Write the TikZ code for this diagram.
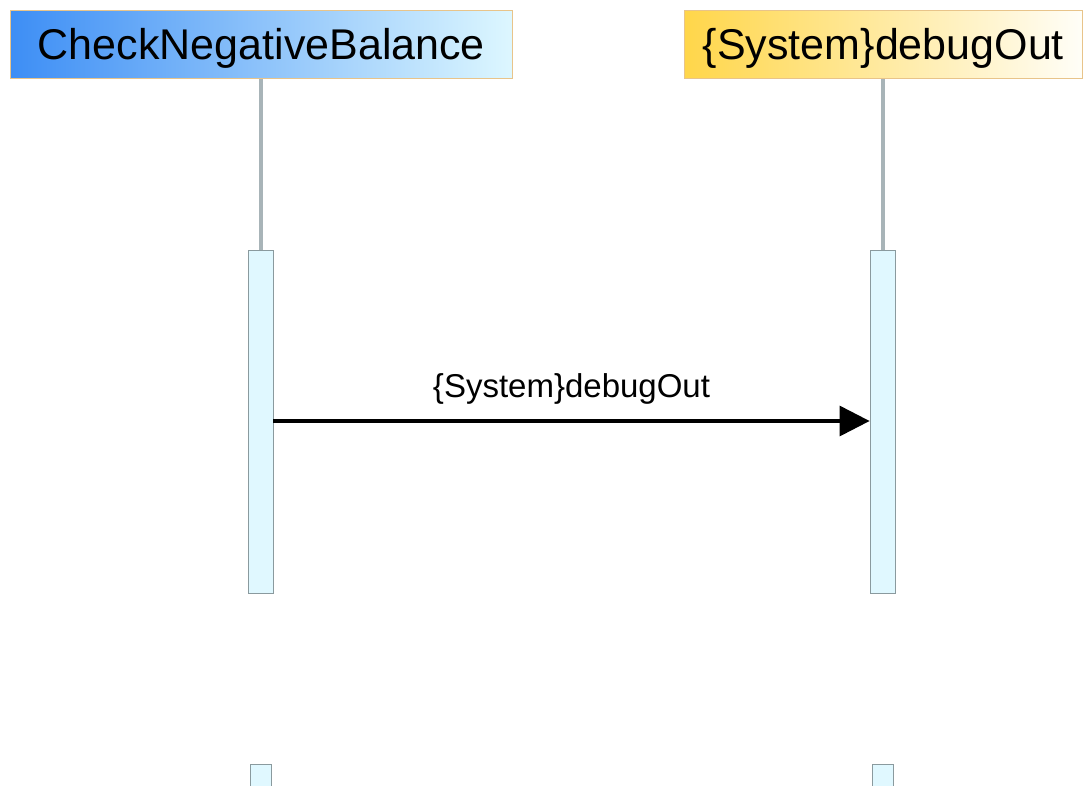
\documentclass[tikz,border=0pt]{standalone}
\usepackage{fontspec}
\setmainfont{Liberation Sans}
\usetikzlibrary{arrows.meta}
\definecolor{actfill}{HTML}{E0F8FF}
\definecolor{actdraw}{HTML}{8A9A9E}
\definecolor{lifeline}{HTML}{A8B4B8}
\definecolor{hdrborder}{HTML}{E8C48A}
\definecolor{blueA}{HTML}{3D8EF5}
\definecolor{blueB}{HTML}{DDF7FF}
\definecolor{goldA}{HTML}{FFD64A}
\definecolor{goldB}{HTML}{FFFEF8}
\tikzset{
  header/.style={draw=hdrborder, line width=0.8pt, minimum height=68pt, inner sep=0pt, text depth=0pt, font=\fontsize{43}{48}\selectfont, anchor=north west},
  actbar/.style={draw=actdraw, fill=actfill, line width=0.8pt, inner sep=0pt, anchor=north},
  lifel/.style={draw=lifeline, line width=4pt},
  msg/.style={draw=black, line width=3.2pt, -{Triangle[length=30pt, width=30pt]}}
}
\begin{document}
\begin{tikzpicture}[x=1pt,y=1pt]
\useasboundingbox (0,0) rectangle (1084,-785);
% headers
\node[header, minimum width=502pt, left color=blueA, right color=blueB] (h1) at (10,-10) {CheckNegativeBalance};
\node[header, minimum width=398pt, left color=goldA, right color=goldB] (h2) at (684,-10) {\{System\}debugOut};
% activation bars
\node[actbar, minimum width=25pt, minimum height=343pt] (a1) at (260.5,-250) {};
\node[actbar, minimum width=25pt, minimum height=343pt] (a2) at (882.5,-250) {};
% lifelines
\draw[lifel] (h1.south -| a1.north) -- (a1.north);
\draw[lifel] (h2.south -| a2.north) -- (a2.north);
% bottom bars
\node[actbar, minimum width=21pt, minimum height=40pt] (b1) at (260.5,-764) {};
\node[actbar, minimum width=21pt, minimum height=40pt] (b2) at (882.5,-764) {};
% message
\coordinate (my) at (0,-421);
\draw[msg] (a1.east |- my) -- (a2.west |- my) node[midway, above=12pt, font=\fontsize{33}{38}\selectfont, text=black] (lbl) {\{System\}debugOut};
\end{tikzpicture}
\end{document}
